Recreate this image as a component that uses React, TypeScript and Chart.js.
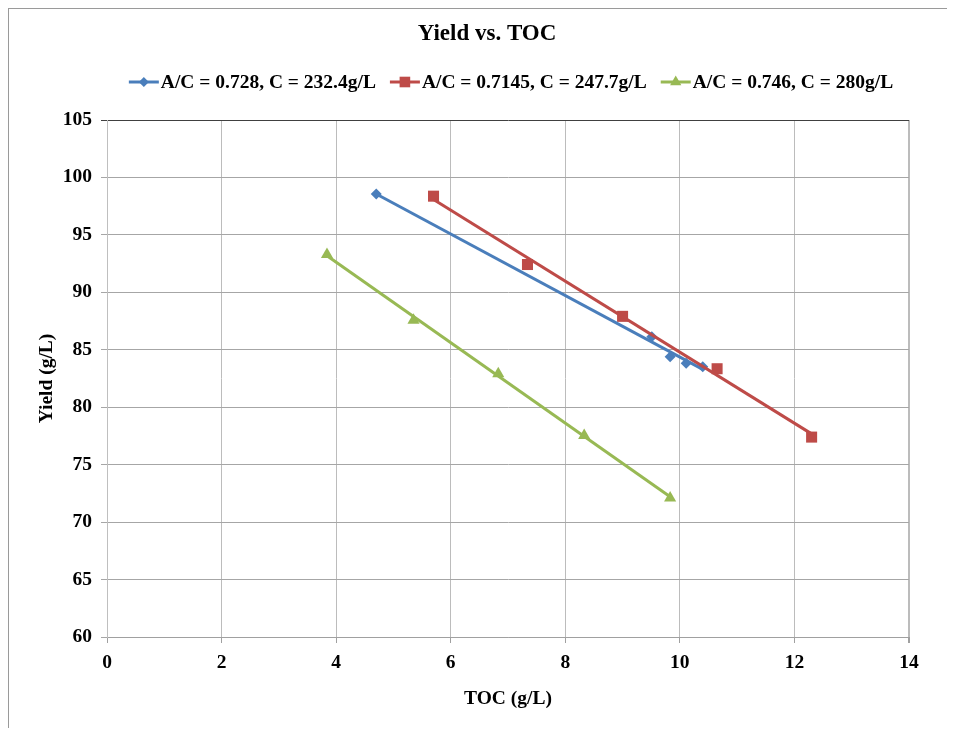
import React, { useEffect, useRef } from 'react';
import { Chart, registerables } from 'chart.js';

Chart.register(...registerables);

const chartTitle = 'Yield vs. TOC';
const xAxisTitle = 'TOC (g/L)';
const yAxisTitle = 'Yield (g/L)';
const seriesNames = [
  'A/C = 0.728, C = 232.4g/L',
  'A/C = 0.7145, C = 247.7g/L',
  'A/C = 0.746, C = 280g/L',
];
const seriesColors = ['#4a7ebb', '#be4b48', '#98b954'];
const seriesMarkers = ['rectRot', 'rect', 'triangle'];

const blueX = [4.7, 9.51, 9.83, 10.11, 10.4];
const blueY = [98.55, 86.14, 84.4, 83.82, 83.53];
const redX = [5.7, 7.34, 9.0, 10.65, 12.3];
const redY = [98.37, 92.42, 87.91, 83.35, 77.4];
const greenX = [3.84, 5.35, 6.83, 8.33, 9.83];
const greenY = [93.29, 87.56, 82.92, 77.54, 72.1];

// trendline end points
const blueTrendX = [4.7, 10.4];
const blueTrendY = [98.56, 83.29];
const redTrendX = [5.7, 12.3];
const redTrendY = [98.08, 77.68];
const greenTrendX = [3.84, 9.83];
const greenTrendY = [93.18, 72.2];

const xTicks = [0, 2, 4, 6, 8, 10, 12, 14];
const yTicks = [60, 65, 70, 75, 80, 85, 90, 95, 100, 105];

const FONT = '"Liberation Serif", "Times New Roman", serif';

const pts = (xs: number[], ys: number[]) => xs.map((x, i) => ({ x, y: ys[i] }));

function drawMarker(ctx: CanvasRenderingContext2D, kind: string, x: number, y: number, r: number) {
  ctx.beginPath();
  if (kind === 'rectRot') {
    ctx.moveTo(x, y - r);
    ctx.lineTo(x + r, y);
    ctx.lineTo(x, y + r);
    ctx.lineTo(x - r, y);
  } else if (kind === 'rect') {
    const s = r * Math.SQRT1_2;
    ctx.rect(x - s, y - s, 2 * s, 2 * s);
  } else {
    ctx.moveTo(x, y - r);
    ctx.lineTo(x + r * 0.866, y + r * 0.5);
    ctx.lineTo(x - r * 0.866, y + r * 0.5);
  }
  ctx.closePath();
  ctx.fill();
}

const titleLegendPlugin = {
  id: 'titleLegend',
  afterDraw(chart: any) {
    const ctx: CanvasRenderingContext2D = chart.ctx;
    ctx.save();
    ctx.fillStyle = '#000';
    ctx.font = `bold 23px ${FONT}`;
    ctx.textAlign = 'center';
    ctx.textBaseline = 'middle';
    ctx.fillText(chartTitle, 478, 25);

    ctx.font = `bold 19.5px ${FONT}`;
    ctx.textAlign = 'left';
    const iconW = 30;
    const gapIcon = 2;
    const gapItem = 14;
    const widths = seriesNames.map((n) => ctx.measureText(n).width);
    const total =
      widths.reduce((a, b) => a + b, 0) + seriesNames.length * (iconW + gapIcon) + (seriesNames.length - 1) * gapItem;
    let x = 502 - total / 2;
    const y = 73;
    seriesNames.forEach((name, i) => {
      ctx.strokeStyle = seriesColors[i];
      ctx.lineWidth = 3;
      ctx.beginPath();
      ctx.moveTo(x, y);
      ctx.lineTo(x + iconW, y);
      ctx.stroke();
      ctx.fillStyle = seriesColors[i];
      const r = seriesMarkers[i] === 'rectRot' ? 5 : seriesMarkers[i] === 'rect' ? 7.5 : 6.5;
      drawMarker(ctx, seriesMarkers[i], x + iconW / 2, y, r);
      ctx.fillStyle = '#000';
      ctx.fillText(name, x + iconW + gapIcon, y + 1);
      x += iconW + gapIcon + widths[i] + gapItem;
    });
    ctx.restore();
  },
};

export default function App() {
  const ref = useRef<HTMLCanvasElement | null>(null);

  useEffect(() => {
    if (!ref.current) return;
    const tickFont = { family: FONT, size: 19.5, weight: 'bold' as const };
    const markerSet = (i: number, xs: number[], ys: number[], radius: number, order: number) => ({
      label: seriesNames[i],
      data: pts(xs, ys),
      showLine: false,
      pointStyle: seriesMarkers[i],
      pointRadius: radius,
      pointHoverRadius: radius,
      pointBackgroundColor: seriesColors[i],
      pointBorderColor: seriesColors[i],
      pointBorderWidth: 0,
      order,
    });
    const trendSet = (i: number, xs: number[], ys: number[], order: number) => ({
      label: seriesNames[i] + ' trend',
      data: pts(xs, ys),
      showLine: true,
      borderColor: seriesColors[i],
      borderWidth: 3,
      pointRadius: 0,
      pointHoverRadius: 0,
      fill: false,
      order,
    });

    const chart = new Chart(ref.current, {
      type: 'scatter',
      data: {
        datasets: [
          markerSet(0, blueX, blueY, 5.5, 5),
          markerSet(1, redX, redY, 7.8, 4),
          markerSet(2, greenX, greenY, 7, 3),
          trendSet(0, blueTrendX, blueTrendY, 2),
          trendSet(1, redTrendX, redTrendY, 1),
          trendSet(2, greenTrendX, greenTrendY, 0),
        ] as any,
      },
      options: {
        animation: false,
        responsive: false,
        layout: { padding: { top: 111, right: 38, left: 0, bottom: 0 } },
        plugins: {
          legend: { display: false },
          title: { display: false },
          tooltip: { enabled: false },
        },
        scales: {
          x: {
            type: 'linear',
            min: 0,
            max: 14,
            afterBuildTicks: (s: any) => {
              s.ticks = xTicks.map((v) => ({ value: v }));
            },
            afterFit: (s: any) => {
              s.height = 91;
            },
            ticks: { color: '#000', font: tickFont, padding: 8, maxRotation: 0, autoSkip: false },
            grid: {
              color: '#bcbcbc',
              lineWidth: (c: any) => (c.tick && c.tick.value === 14 ? 2 : 1),
              tickLength: 6,
              tickColor: '#a0a0a0',
            },
            border: { color: '#a0a0a0', width: 1 },
            title: {
              display: true,
              text: xAxisTitle,
              color: '#000',
              font: tickFont,
              padding: { top: 0, bottom: 17 },
            },
          },
          y: {
            type: 'linear',
            min: 60,
            max: 105,
            afterBuildTicks: (s: any) => {
              s.ticks = yTicks.map((v) => ({ value: v }));
            },
            afterFit: (s: any) => {
              s.width = 98;
            },
            ticks: { color: '#000', font: tickFont, padding: 9 },
            grid: {
              color: (c: any) => (c.tick && c.tick.value === 105 ? '#404040' : '#a6a6a6'),
              tickLength: 6,
            },
            border: { color: '#bfbfbf', width: 1 },
            title: {
              display: true,
              text: yAxisTitle,
              color: '#000',
              font: tickFont,
              padding: { top: 26, bottom: 0 },
            },
          },
        },
      },
      plugins: [titleLegendPlugin],
    });
    return () => chart.destroy();
  }, []);

  return (
    <div
      style={{
        position: 'relative',
        width: 939,
        height: 720,
        borderLeft: '1px solid #9a9a9a',
        borderTop: '1px solid #9a9a9a',
        boxSizing: 'border-box',
        background: '#fff',
      }}
    >
      <canvas ref={ref} width={938} height={719} style={{ display: 'block', width: 938, height: 719 }} />
    </div>
  );
}
